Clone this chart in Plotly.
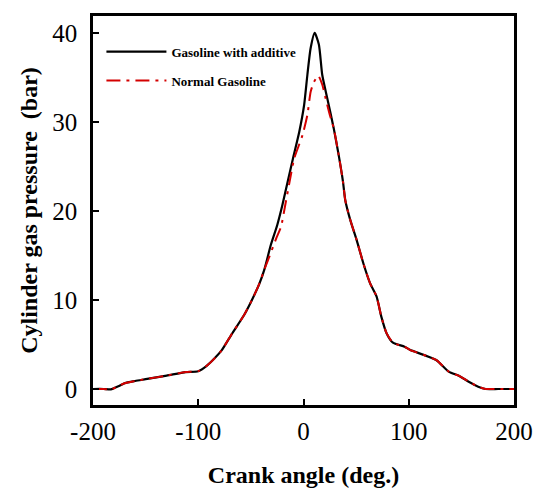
import plotly.graph_objects as go

# Gasoline with additive
angle_add = [-200, -190, -183, -176, -170, -160, -150, -130, -112, -100, -92, -84, -78, -68, -56, -49,
             -42, -37, -31, -25, -20, -15, -10, -4, 0.6, 3.7, 6.8, 10.6, 14.6, 17.8, 22.5, 28.7, 33.4,
             37.5, 39.7, 44.4, 50.6, 56.9, 63.2, 69.4, 74, 78.8, 85, 96, 101, 126, 138, 148, 157, 166,
             173, 185, 200]
press_add = [0, 0, -0.05, 0.3, 0.65, 0.9, 1.1, 1.5, 1.9, 2.0, 2.6, 3.5, 4.3, 6.2, 8.4, 10,
             11.8, 13.5, 16.2, 18.4, 20.7, 23.3, 25.9, 28.9, 31.9, 35.3, 38.3, 40.0, 38.7, 35.3, 32.7, 29.3, 26.3,
             23.3, 21.2, 19, 16.7, 14.1, 11.9, 10.4, 8.1, 6.3, 5.2, 4.75, 4.4, 3.26, 1.95, 1.46, 0.82, 0.26,
             0, 0, 0]

# Normal gasoline
angle_norm = [-200, -190, -183, -176, -170, -160, -150, -130, -112, -100, -92, -84, -78, -68, -56, -49,
              -42, -37, -32.3, -26, -21.4, -17.6, -13.5, -8.8, -1, 3.7, 6.8, 10, 14, 17.8, 20.9, 24.5, 28.7, 33.4,
              37.5, 39.7, 44.4, 50.6, 56.9, 63.2, 69.4, 74, 78.8, 85, 96, 101, 126, 138, 148, 157, 166,
              173, 185, 200]
press_norm = [0, 0, -0.05, 0.3, 0.65, 0.9, 1.1, 1.5, 1.9, 2.0, 2.6, 3.5, 4.3, 6.2, 8.4, 10,
              11.8, 13.5, 14.9, 16.9, 18.2, 20.5, 23.1, 25.9, 28.5, 30.8, 33.4, 34.5, 35.2, 34.2, 32.7, 31.0, 29.3, 26.3,
              23.3, 21.2, 19, 16.7, 14.1, 11.9, 10.4, 8.1, 6.3, 5.2, 4.75, 4.4, 3.26, 1.95, 1.46, 0.82, 0.26,
              0, 0, 0]

x_ticks = [-200, -100, 0, 100, 200]
y_ticks = [0, 10, 20, 30, 40]

fig = go.Figure()
fig.add_trace(go.Scatter(x=angle_add, y=press_add, mode="lines", name="Gasoline with additive",
                         line=dict(color="black", width=2.2, shape="spline", smoothing=0.6),
                         legendgroup="a"))
fig.add_trace(go.Scatter(x=angle_norm, y=press_norm, mode="lines", name="Normal Gasoline",
                         line=dict(color="#d40000", width=2, dash="14px,6px,3px,6px", shape="spline", smoothing=0.6),
                         legendgroup="b"))

axis_common = dict(showgrid=False, zeroline=False, showline=True, linecolor="black", linewidth=2.5,
                   mirror=True, ticks="inside", ticklen=6, tickwidth=2, tickcolor="black",
                   tickfont=dict(family="Liberation Serif", size=25, color="black"))

fig.update_xaxes(range=[-200, 200], tickvals=x_ticks, ticktext=[str(v) for v in x_ticks],
                 title=dict(text="<b>Crank angle (deg.)</b>", font=dict(family="Liberation Serif", size=24, color="black"), standoff=23),
                 ticklabelstandoff=2, **axis_common)
fig.update_yaxes(range=[-1.8, 41.9], tickvals=y_ticks, ticktext=[str(v) for v in y_ticks],
                 title=dict(text="<b>Cylinder gas pressure  (bar)</b>", font=dict(family="Liberation Serif", size=24, color="black"), standoff=8),
                 ticklabelstandoff=8, **axis_common)

fig.update_layout(
    width=545, height=497,
    margin=dict(l=93, r=26, t=16, b=92),
    paper_bgcolor="white", plot_bgcolor="white",
    showlegend=True,
    legend=dict(x=0.02, y=0.947, xanchor="left", yanchor="top", bgcolor="rgba(0,0,0,0)",
                font=dict(family="Liberation Serif", size=13, color="black", weight="bold"),
                tracegroupgap=9, itemwidth=60),
)

fig.write_html("out.html")
